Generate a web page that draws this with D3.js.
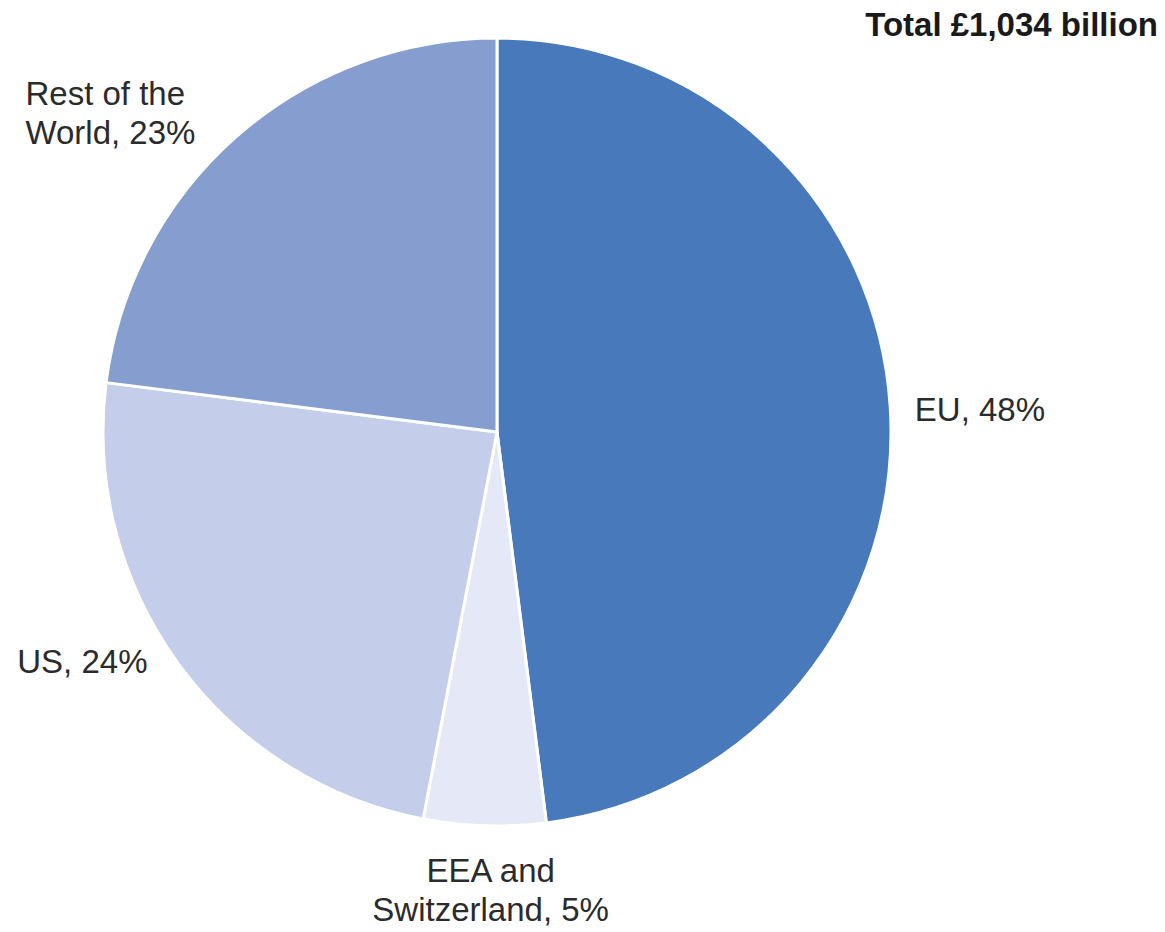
<!DOCTYPE html>
<html>
<head>
<meta charset="utf-8">
<script src="https://cdn.jsdelivr.net/npm/d3@7"></script>
<style>
  html, body { margin: 0; padding: 0; background: #fff; }
  svg { display: block; }
  text { font-family: "Liberation Sans", Arial, Helvetica, sans-serif; fill: #2b2b2b; }
</style>
</head>
<body>
<svg id="chart" width="1165" height="932"></svg>
<script>
// Share of total by destination (%)
const regions = ["EU", "EEA and Switzerland", "US", "Rest of the World"];
const shares = [48, 5, 24, 23];
const labelLines = [
  ["EU, 48%"],
  ["EEA and", "Switzerland, 5%"],
  ["US, 24%"],
  ["Rest of the", "World, 23%"]
];
const colors = ["#4779bb", "#e5e8f7", "#c4cdea", "#859ecf"];
const totalLabel = "Total £1,034 billion";

const svg = d3.select("#chart");
const cx = 497, cy = 432, radius = 394;

const pie = d3.pie().value(d => d.value).sort(null);
const arc = d3.arc().innerRadius(0).outerRadius(radius);

const data = regions.map((r, i) => ({ name: r, value: shares[i], color: colors[i], lines: labelLines[i] }));
const arcs = pie(data);

const g = svg.append("g").attr("transform", `translate(${cx},${cy})`);

g.selectAll("path")
  .data(arcs)
  .join("path")
  .attr("d", arc)
  .attr("fill", d => d.data.color)
  .attr("stroke", "#fff")
  .attr("stroke-width", 3)
  .attr("stroke-linejoin", "round");

// Label placement: a point beyond the rim on the slice's mid angle, then a nudge
const labelCfg = [
  { r: 1.06, dx: 1, dy: 4, anchor: "start" },
  { r: 1.0, dx: 6, dy: 64, anchor: "middle" },
  { r: 1.0, dx: -161, dy: -2, anchor: "start" },
  { r: 1.0, dx: -211, dy: -24, anchor: "start" }
];
const lineH = 39;
const fontSize = 33;

arcs.forEach((a, i) => {
  const cfg = labelCfg[i];
  const mid = (a.startAngle + a.endAngle) / 2;
  const x = Math.sin(mid) * radius * cfg.r + cfg.dx;
  const y = -Math.cos(mid) * radius * cfg.r + cfg.dy;
  const t = g.append("text")
    .attr("x", x)
    .attr("y", y)
    .attr("text-anchor", cfg.anchor)
    .style("font-size", fontSize + "px");
  const n = a.data.lines.length;
  a.data.lines.forEach((ln, j) => {
    t.append("tspan")
      .attr("x", x)
      .attr("y", y + (j - (n - 1) / 2) * lineH)
      .attr("dy", "0.35em")
      .text(ln);
  });
});

svg.append("text")
  .attr("x", 1158)
  .attr("y", 36)
  .attr("text-anchor", "end")
  .style("font-size", "33px")
  .style("font-weight", "bold")
  .style("fill", "#1a1a1a")
  .text(totalLabel);
</script>
</body>
</html>
